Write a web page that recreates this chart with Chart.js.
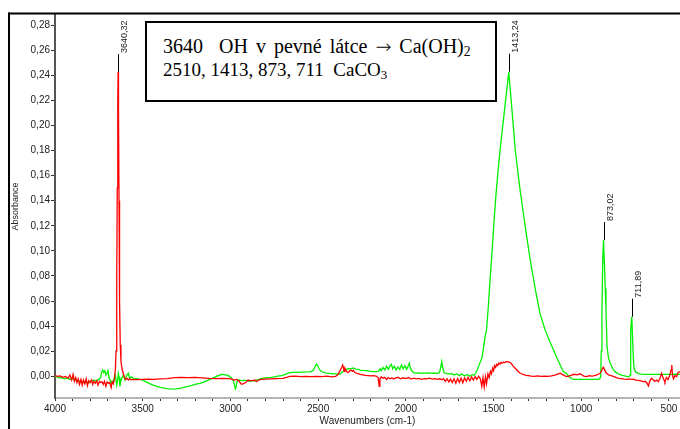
<!DOCTYPE html>
<html>
<head>
<meta charset="utf-8">
<script src="https://cdn.jsdelivr.net/npm/chart.js@4.4.1/dist/chart.umd.min.js"></script>
<style>
  html, body { margin: 0; padding: 0; background: #fff; }
  #wrap { position: relative; width: 680px; height: 429px; overflow: hidden; }
  #spectrum { position: absolute; left: 0; top: 0; }
  #note {
    position: absolute; left: 145px; top: 21px; width: 352px; height: 81px;
    box-sizing: border-box; border: 2px solid #000; background: #fff;
    padding: 12px 0 0 16px;
    font-family: "Liberation Serif", "Times New Roman", serif;
    font-size: 19px; line-height: 23.4px; color: #000; white-space: pre;
  }
  #note .l1 { font-size: 20px; word-spacing: 3px; }
  #note .arrow { font-family: "DejaVu Sans", sans-serif; font-size: 0.95em; font-weight: 300; }
  #note sub { font-size: 0.68em; vertical-align: -0.25em; line-height: 0; }
</style>
</head>
<body>
<div id="wrap">
  <canvas id="spectrum" width="680" height="429"></canvas>
  <div id="note"><span class="l1">3640  OH v pevné látce <span class="arrow">→</span> Ca(OH)<sub>2</sub></span>
2510, 1413, 873, 711  CaCO<sub>3</sub></div>
</div>
<script>
// Axis ticks
const yTicks = [0, 0.02, 0.04, 0.06, 0.08, 0.10, 0.12, 0.14, 0.16, 0.18, 0.20, 0.22, 0.24, 0.26, 0.28];
const xTicks = [500, 600, 700, 800, 900, 1000, 1100, 1200, 1300, 1400, 1500, 1600, 1700, 1800, 1900,
                2000, 2100, 2200, 2300, 2400, 2500, 2600, 2700, 2800, 2900, 3000, 3100, 3200, 3300,
                3400, 3500, 3600, 3700, 3800, 3900, 4000];
const xLabelled = [500, 1000, 1500, 2000, 2500, 3000, 3500, 4000];

// Spectrum 1 (red): [wavenumber cm-1, absorbance]
const redSpectrum = [
  [4000, 0.0005], [3985, 0.0000], [3970, 0.0003], [3955, -0.0008], [3940, -0.0002], [3925, -0.0015],
  [3915, 0.0010], [3905, -0.0030], [3897, 0.0015], [3890, -0.0040], [3882, -0.0010], [3875, -0.0050],
  [3868, -0.0020], [3860, -0.0065], [3852, -0.0025], [3845, -0.0070], [3838, -0.0030], [3830, -0.0060],
  [3822, -0.0020], [3815, -0.0075], [3808, -0.0035], [3800, -0.0050], [3792, -0.0030], [3785, -0.0065],
  [3778, -0.0040], [3770, -0.0055], [3762, -0.0035], [3755, -0.0070], [3747, -0.0040], [3740, -0.0050],
  [3732, -0.0045], [3725, -0.0065], [3718, -0.0040], [3710, -0.0080], [3703, -0.0045], [3696, -0.0055],
  [3688, -0.0050], [3680, -0.0090], [3674, -0.0045], [3668, -0.0060], [3662, -0.0030], [3656, 0.0050],
  [3652, 0.0200], [3648, 0.0800], [3645, 0.1500], [3642, 0.2200], [3640.32, 0.2425], [3638, 0.2100],
  [3635, 0.1400], [3632, 0.0600], [3628, 0.0250], [3624, 0.0120], [3618, 0.0060], [3611, 0.0024],
  [3604, -0.0010], [3597, -0.0025], [3590, -0.0015], [3582, -0.0030], [3575, -0.0020], [3565, -0.0028],
  [3550, -0.0024], [3530, -0.0026], [3500, -0.0024], [3470, -0.0022], [3440, -0.0024], [3400, -0.0020],
  [3360, -0.0018], [3320, -0.0010], [3280, -0.0008], [3240, -0.0010], [3200, -0.0009], [3160, -0.0012],
  [3120, -0.0016], [3080, -0.0018], [3040, -0.0016], [3010, -0.0018], [2995, -0.0020], [2980, -0.0030],
  [2965, -0.0025], [2950, -0.0040], [2940, -0.0060], [2930, -0.0062], [2920, -0.0055], [2910, -0.0045],
  [2900, -0.0030], [2890, -0.0035], [2875, -0.0035], [2860, -0.0030], [2851, -0.0043], [2840, -0.0030],
  [2825, -0.0025], [2800, -0.0022], [2770, -0.0020], [2740, -0.0018], [2700, -0.0016], [2680, -0.0008],
  [2662, 0.0000], [2630, 0.0002], [2600, -0.0002], [2570, 0.0000], [2540, -0.0003], [2510, 0.0000],
  [2480, -0.0002], [2450, 0.0001], [2420, -0.0004], [2400, 0.0000], [2390, 0.0010], [2385, 0.0020],
  [2375, 0.0045], [2366, 0.0070], [2360, 0.0090], [2355, 0.0065], [2352, 0.0040], [2347, 0.0064],
  [2340, 0.0045], [2333, 0.0030], [2325, 0.0035], [2315, 0.0050], [2305, 0.0040], [2300, 0.0048],
  [2290, 0.0030], [2275, 0.0022], [2260, 0.0015], [2245, 0.0012], [2230, 0.0008], [2215, 0.0006],
  [2200, 0.0004], [2185, 0.0005], [2170, 0.0002], [2158, -0.0010], [2152, -0.0080], [2148, -0.0020],
  [2140, -0.0005], [2130, -0.0015], [2120, -0.0008], [2110, -0.0025], [2100, -0.0010], [2090, -0.0020],
  [2080, -0.0012], [2070, -0.0022], [2060, -0.0015], [2045, -0.0008], [2030, -0.0020], [2015, -0.0012],
  [2000, -0.0018], [1985, -0.0010], [1970, -0.0022], [1955, -0.0015], [1940, -0.0020], [1925, -0.0016],
  [1910, -0.0024], [1895, -0.0018], [1880, -0.0020], [1865, -0.0015], [1850, -0.0022], [1835, -0.0018],
  [1820, -0.0025], [1805, -0.0020], [1795, -0.0028], [1785, -0.0018], [1775, -0.0040], [1765, -0.0020],
  [1755, -0.0045], [1745, -0.0022], [1735, -0.0050], [1725, -0.0020], [1715, -0.0055], [1705, -0.0018],
  [1695, -0.0048], [1685, -0.0015], [1675, -0.0052], [1665, -0.0012], [1655, -0.0040], [1645, -0.0008],
  [1635, -0.0035], [1625, -0.0005], [1615, -0.0030], [1605, -0.0002], [1595, -0.0025], [1585, 0.0000],
  [1575, -0.0020], [1567, -0.0080], [1560, -0.0010], [1553, -0.0085], [1546, -0.0005], [1540, -0.0060],
  [1532, 0.0020], [1525, -0.0010], [1518, 0.0040], [1512, 0.0020], [1505, 0.0065], [1500, 0.0045],
  [1494, 0.0085], [1488, 0.0070], [1482, 0.0095], [1476, 0.0085], [1470, 0.0105], [1463, 0.0098],
  [1456, 0.0110], [1450, 0.0104], [1443, 0.0113], [1436, 0.0110], [1428, 0.0117], [1420, 0.0115],
  [1412, 0.0114], [1405, 0.0110], [1398, 0.0100], [1390, 0.0085], [1382, 0.0072], [1374, 0.0060],
  [1366, 0.0048], [1355, 0.0032], [1345, 0.0022], [1330, 0.0015], [1315, 0.0008], [1300, 0.0005],
  [1285, 0.0002], [1270, 0.0000], [1250, 0.0003], [1230, -0.0001], [1210, 0.0001], [1190, 0.0000],
  [1170, 0.0004], [1150, 0.0010], [1135, 0.0018], [1121, 0.0024], [1108, 0.0015], [1095, 0.0005],
  [1083, -0.0002], [1070, 0.0002], [1055, 0.0010], [1040, 0.0016], [1025, 0.0012], [1007, 0.0020],
  [995, 0.0010], [985, 0.0002], [969, -0.0002], [955, 0.0005], [940, 0.0002], [931, 0.0004],
  [915, 0.0010], [900, 0.0018], [893, 0.0024], [885, 0.0040], [878, 0.0065], [874, 0.0072],
  [868, 0.0055], [860, 0.0030], [855, 0.0024], [845, 0.0012], [830, 0.0006], [817, 0.0000],
  [800, -0.0010], [785, -0.0016], [770, -0.0018], [755, -0.0022], [741, -0.0024], [725, -0.0020],
  [712, -0.0024], [703, -0.0022], [690, -0.0030], [675, -0.0032], [660, -0.0036], [646, -0.0043],
  [635, -0.0040], [625, -0.0055], [617, -0.0077], [610, -0.0040], [600, -0.0015], [590, -0.0028],
  [580, -0.0040], [570, -0.0030], [561, -0.0043], [552, -0.0020], [542, 0.0024], [535, -0.0005],
  [528, -0.0030], [523, -0.0045], [515, -0.0010], [505, -0.0025], [495, 0.0010], [488, 0.0050],
  [484, 0.0090], [480, 0.0010], [474, -0.0020], [466, 0.0005], [456, -0.0002], [448, 0.0030],
  [437, 0.0037]
];

// Spectrum 2 (green): [wavenumber cm-1, absorbance]
const greenSpectrum = [
  [4000, 0.0000], [3990, -0.0005], [3975, -0.0012], [3960, -0.0010], [3945, -0.0020], [3930, -0.0015],
  [3915, -0.0025], [3900, -0.0018], [3885, -0.0030], [3870, -0.0040], [3855, -0.0035], [3840, -0.0050],
  [3825, -0.0045], [3810, -0.0055], [3795, -0.0040], [3780, -0.0030], [3765, -0.0035], [3750, -0.0025],
  [3740, -0.0010], [3734, 0.0035], [3728, 0.0050], [3722, 0.0030], [3716, 0.0045], [3710, 0.0010],
  [3705, 0.0020], [3698, 0.0045], [3692, -0.0010], [3686, -0.0030], [3680, -0.0060], [3674, -0.0040],
  [3668, -0.0056], [3662, -0.0010], [3658, 0.0024], [3653, -0.0020], [3648, -0.0070], [3643, -0.0030],
  [3639, 0.0024], [3634, -0.0010], [3630, -0.0080], [3625, -0.0040], [3618, -0.0010], [3610, 0.0010],
  [3601, -0.0030], [3592, 0.0005], [3582, 0.0024], [3574, -0.0015], [3565, -0.0005], [3550, -0.0020],
  [3535, -0.0018], [3520, -0.0022], [3500, -0.0030], [3480, -0.0045], [3460, -0.0058], [3440, -0.0070],
  [3420, -0.0080], [3400, -0.0088], [3380, -0.0094], [3360, -0.0098], [3340, -0.0101], [3327, -0.0102],
  [3310, -0.0100], [3290, -0.0096], [3270, -0.0090], [3250, -0.0083], [3230, -0.0076], [3210, -0.0068],
  [3190, -0.0061], [3173, -0.0056], [3150, -0.0044], [3130, -0.0032], [3110, -0.0020], [3095, -0.0010],
  [3078, 0.0000], [3065, 0.0008], [3050, 0.0016], [3035, 0.0014], [3020, 0.0010], [3005, 0.0000],
  [2993, -0.0016], [2985, -0.0030], [2978, -0.0060], [2972, -0.0100], [2967, -0.0080], [2962, -0.0040],
  [2955, -0.0030], [2945, -0.0032], [2935, -0.0035], [2920, -0.0030], [2905, -0.0036], [2890, -0.0040],
  [2875, -0.0034], [2860, -0.0036], [2851, -0.0030], [2830, -0.0020], [2810, -0.0015], [2790, -0.0010],
  [2770, -0.0008], [2750, -0.0004], [2730, 0.0002], [2710, 0.0006], [2700, 0.0010], [2680, 0.0020],
  [2662, 0.0030], [2640, 0.0032], [2620, 0.0031], [2600, 0.0033], [2580, 0.0034], [2560, 0.0035],
  [2540, 0.0037], [2528, 0.0048], [2520, 0.0070], [2513, 0.0092], [2509, 0.0098], [2502, 0.0085],
  [2495, 0.0060], [2487, 0.0045], [2478, 0.0036], [2465, 0.0030], [2452, 0.0025], [2440, 0.0024],
  [2425, 0.0022], [2410, 0.0020], [2395, 0.0020], [2385, 0.0018], [2376, 0.0016], [2365, 0.0030],
  [2355, 0.0042], [2348, 0.0050], [2338, 0.0056], [2325, 0.0062], [2315, 0.0060], [2300, 0.0066],
  [2285, 0.0058], [2270, 0.0055], [2261, 0.0050], [2245, 0.0048], [2223, 0.0046], [2200, 0.0040],
  [2180, 0.0038], [2166, 0.0037], [2155, 0.0040], [2147, 0.0060], [2140, 0.0045], [2130, 0.0070],
  [2120, 0.0050], [2110, 0.0080], [2100, 0.0055], [2090, 0.0085], [2082, 0.0096], [2075, 0.0060],
  [2065, 0.0080], [2055, 0.0050], [2045, 0.0075], [2035, 0.0055], [2025, 0.0090], [2015, 0.0060],
  [2005, 0.0085], [1995, 0.0055], [1987, 0.0080], [1980, 0.0104], [1975, 0.0070], [1965, 0.0040],
  [1955, 0.0030], [1940, 0.0026], [1925, 0.0028], [1910, 0.0024], [1895, 0.0026], [1880, 0.0025],
  [1865, 0.0027], [1850, 0.0024], [1835, 0.0026], [1820, 0.0024], [1808, 0.0030], [1800, 0.0080],
  [1795, 0.0117], [1790, 0.0070], [1782, 0.0030], [1770, 0.0024], [1755, 0.0018], [1740, 0.0022],
  [1725, 0.0010], [1710, 0.0020], [1695, 0.0005], [1680, 0.0018], [1665, 0.0002], [1650, 0.0015],
  [1635, 0.0000], [1620, 0.0012], [1610, 0.0010], [1600, 0.0028], [1592, 0.0055], [1586, 0.0077],
  [1578, 0.0105], [1567, 0.0143], [1558, 0.0220], [1548, 0.0316], [1540, 0.0370], [1530, 0.0550],
  [1520, 0.0768], [1508, 0.1000], [1497, 0.1240], [1486, 0.1450], [1474, 0.1640], [1463, 0.1800],
  [1451, 0.1950], [1440, 0.2090], [1430, 0.2215], [1420, 0.2340], [1413.24, 0.2428], [1405, 0.2290],
  [1394, 0.2110], [1376, 0.1800], [1350, 0.1500], [1320, 0.1200], [1290, 0.0920], [1260, 0.0680],
  [1235, 0.0500], [1206, 0.0370], [1180, 0.0280], [1155, 0.0200], [1130, 0.0120],
  [1102, 0.0037], [1083, 0.0020], [1065, -0.0010], [1046, -0.0024], [1000, -0.0025], [950, -0.0024],
  [910, -0.0024], [895, -0.0020], [889, 0.0000], [886, 0.0200], [882, 0.0530], [877, 0.0950],
  [873.02, 0.1086], [868, 0.0900], [863, 0.0700], [859, 0.0530], [853, 0.0236], [845, 0.0150],
  [835, 0.0104], [820, 0.0060], [808, 0.0037], [790, 0.0020], [770, 0.0010], [741, 0.0000],
  [726, -0.0002], [722, 0.0010], [718, 0.0370], [711.89, 0.0475], [707, 0.0290], [703, 0.0150],
  [699, 0.0064], [690, 0.0035], [675, 0.0024], [660, 0.0018], [640, 0.0015], [620, 0.0016],
  [600, 0.0016], [580, 0.0015], [560, 0.0016], [540, 0.0016], [520, 0.0015], [500, 0.0016],
  [480, 0.0016], [460, 0.0017], [437, 0.0016]
];

// Picked peaks: wavenumber and the spectrum it belongs to
const peakWn = [3640.32, 1413.24, 873.02, 711.89];
const peakSeries = ['red', 'green', 'green', 'green'];

const seriesByName = { red: redSpectrum, green: greenSpectrum };
const comma = (v, d) => v.toFixed(d).replace('.', ',');
const toPoints = s => s.map(p => ({ x: p[0], y: p[1] }));

// Outer frame of the figure
const framePlugin = {
  id: 'frame',
  afterDraw(chart) {
    const c = chart.ctx;
    c.save();
    c.fillStyle = '#000';
    c.fillRect(8, 12.5, 672, 2);
    c.fillRect(8, 12.5, 2, 417);
    c.restore();
  }
};

// Peak markers with rotated wavenumber labels
const peakPlugin = {
  id: 'peaks',
  afterDatasetsDraw(chart) {
    const c = chart.ctx, xs = chart.scales.x, ys = chart.scales.y;
    c.save();
    c.font = '9px "Liberation Sans", Arial, sans-serif';
    c.fillStyle = '#222';
    c.strokeStyle = '#000';
    c.lineWidth = 1;
    peakWn.forEach((wn, i) => {
      const pt = seriesByName[peakSeries[i]].find(p => p[0] === wn);
      const px = Math.round(xs.getPixelForValue(wn)) + 0.5;
      const py = ys.getPixelForValue(pt[1]);
      c.beginPath();
      c.moveTo(px, py);
      c.lineTo(px, py - 18);
      c.stroke();
      c.save();
      c.translate(px + 6, py - 19);
      c.rotate(-Math.PI / 2);
      c.textAlign = 'left';
      c.textBaseline = 'middle';
      c.fillText(comma(wn, 2), 0, 0);
      c.restore();
    });
    c.restore();
  }
};

const axisFont = { family: '"Liberation Sans", Arial, sans-serif', size: 10 };

new Chart(document.getElementById('spectrum'), {
  type: 'line',
  data: {
    datasets: [
      { label: 'red', data: toPoints(redSpectrum), borderColor: '#ff0000', borderWidth: 1.3 },
      { label: 'green', data: toPoints(greenSpectrum), borderColor: '#00f000', borderWidth: 1.3 }
    ]
  },
  options: {
    responsive: false,
    animation: false,
    devicePixelRatio: 1,
    parsing: false,
    elements: { point: { radius: 0 }, line: { tension: 0 } },
    layout: { padding: { left: 0, right: 0, top: 15, bottom: 0 } },
    plugins: { legend: { display: false }, tooltip: { enabled: false } },
    scales: {
      x: {
        type: 'linear',
        reverse: true,
        min: 437,
        max: 4000,
        afterBuildTicks: s => { s.ticks = xTicks.map(v => ({ value: v })); },
        afterFit: s => { s.height = 31; },
        ticks: {
          autoSkip: false, maxRotation: 0, padding: 2, color: '#222', font: axisFont,
          callback: v => (xLabelled.includes(v) ? String(v) : '')
        },
        grid: { drawOnChartArea: false, drawTicks: true, tickLength: 3, color: '#333' },
        border: { display: true, color: '#b4b4b4', width: 2 },
        title: { display: true, text: 'Wavenumbers (cm-1)', color: '#222', font: axisFont, padding: { top: 0, bottom: 2 } }
      },
      y: {
        type: 'linear',
        min: -0.0173,
        max: 0.288,
        afterBuildTicks: s => { s.ticks = yTicks.map(v => ({ value: v })); },
        afterFit: s => { s.width = 55; },
        ticks: { padding: 1, color: '#222', font: axisFont, callback: v => comma(v, 2) },
        grid: { drawOnChartArea: false, drawTicks: true, tickLength: 4, color: '#333' },
        border: { display: true, color: '#555', width: 2, dash: [1, 1] },
        title: { display: true, text: 'Absorbance', color: '#222', font: { family: axisFont.family, size: 9 }, padding: { top: 10, bottom: 0 } }
      }
    }
  },
  plugins: [framePlugin, peakPlugin]
});
</script>
</body>
</html>
